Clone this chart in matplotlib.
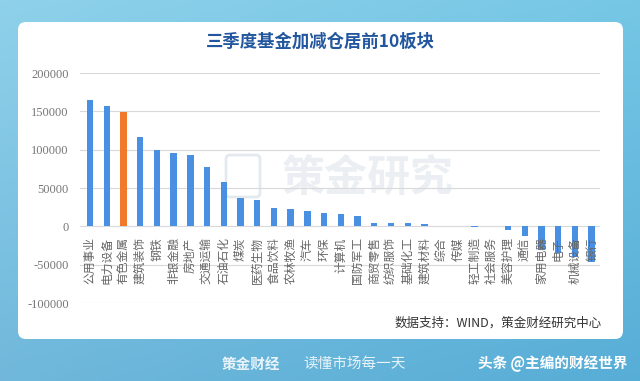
import numpy as np
import matplotlib
matplotlib.use("Agg")
import matplotlib.pyplot as plt
from matplotlib.patches import FancyBboxPatch

plt.rcParams['font.family'] = ['Noto Sans CJK SC', 'DejaVu Sans']

# 板块及加减仓数据（估读自原图）
sectors = ['公用事业', '电力设备', '有色金属', '建筑装饰', '钢铁', '非银金融', '房地产',
           '交通运输', '石油石化', '煤炭', '医药生物', '食品饮料', '农林牧渔', '汽车',
           '环保', '计算机', '国防军工', '商贸零售', '纺织服饰', '基础化工', '建筑材料',
           '综合', '传媒', '轻工制造', '社会服务', '美容护理', '通信', '家用电器',
           '电子', '机械设备', '银行']
values = [165000, 157000, 148500, 116000, 100000, 96000, 93500,
          78000, 58000, 36500, 34000, 23500, 22000, 20000,
          17500, 16500, 14000, 5000, 3800, 3800, 2500,
          500, 300, -300, 800, -5000, -13000, -31000,
          -35000, -40000, -46000]
highlight = '有色金属'
yticks = [-100000, -50000, 0, 50000, 100000, 150000, 200000]

W, H = 640, 381
fig = plt.figure(figsize=(W / 100, H / 100), dpi=100)

# 背景：蓝色渐变
bg = fig.add_axes([0, 0, 1, 1])
xx = np.linspace(0, 1, 256)
yy = np.linspace(0, 1, 128)
X, Y = np.meshgrid(xx, yy)
r = 0.56 - 0.10 * X - 0.12 * Y
g = 0.82 - 0.04 * X - 0.10 * Y
b = 0.92 - 0.02 * X - 0.06 * Y
img = np.dstack([r, g, b]).clip(0, 1)
bg.imshow(img, extent=[0, W, H, 0], aspect='auto')
bg.set_xlim(0, W)
bg.set_ylim(H, 0)
bg.axis('off')

# 白色圆角面板
panel = FancyBboxPatch((18, 22), 605, 317, boxstyle="round,pad=0,rounding_size=8",
                       facecolor='white', edgecolor='none')
bg.add_patch(panel)

# 标题
bg.text(320, 42, '三季度基金加减仓居前10板块', ha='center', va='center',
        fontsize=12.5, fontweight='bold', color='#22579f')
# 水印
bg.text(368, 178, '策金研究', ha='center', va='center', fontsize=31,
        fontweight='bold', color='#e3e9ee', alpha=0.7)
bg.add_patch(FancyBboxPatch((226, 155), 34, 42, boxstyle="round,pad=0,rounding_size=4",
                            facecolor='none', edgecolor='#e3e9ee', lw=2))

# 数据来源
bg.text(602, 323, '数据支持：WIND，策金财经研究中心', ha='right', va='center',
        fontsize=9, color='#333333')

# 底部文字
bg.text(222, 364, '策金财经', ha='left', va='center', fontsize=10.5,
        fontweight='bold', color='white', alpha=0.85)
bg.text(303, 364, '读懂市场每一天', ha='left', va='center', fontsize=10.5,
        color='white', alpha=0.85)
bg.text(628, 364, '头条 @主编的财经世界', ha='right', va='center', fontsize=10.5,
        fontweight='bold', color='white')

# 柱状图
ax = fig.add_axes([80 / W, 1 - 303 / H, 520 / W, 230 / H])
ax.patch.set_alpha(0)
x = np.arange(len(sectors))
colors = ['#f07a2a' if s == highlight else '#4a90e2' for s in sectors]
ax.bar(x, values, width=0.38, color=colors, zorder=3)

ax.set_xlim(-0.6, len(sectors) - 0.5)
ax.set_ylim(-100000, 200000)
ax.set_yticks(yticks)
ax.set_yticklabels([str(v) for v in yticks], family='Liberation Serif',
                   fontsize=9, color='#777777')
ax.set_xticks([])
ax.tick_params(axis='y', length=0, pad=8)
ax.grid(axis='y', color='#d9d9d9', lw=0.8, zorder=0)
for sp in ax.spines.values():
    sp.set_visible(False)

for i, s in enumerate(sectors):
    ax.annotate(s, (i, 0), xytext=(0, -8), textcoords='offset points',
                rotation=90, ha='center', va='top', fontsize=8.5,
                color='#666666', zorder=4)

fig.savefig('out.png', dpi=100)
